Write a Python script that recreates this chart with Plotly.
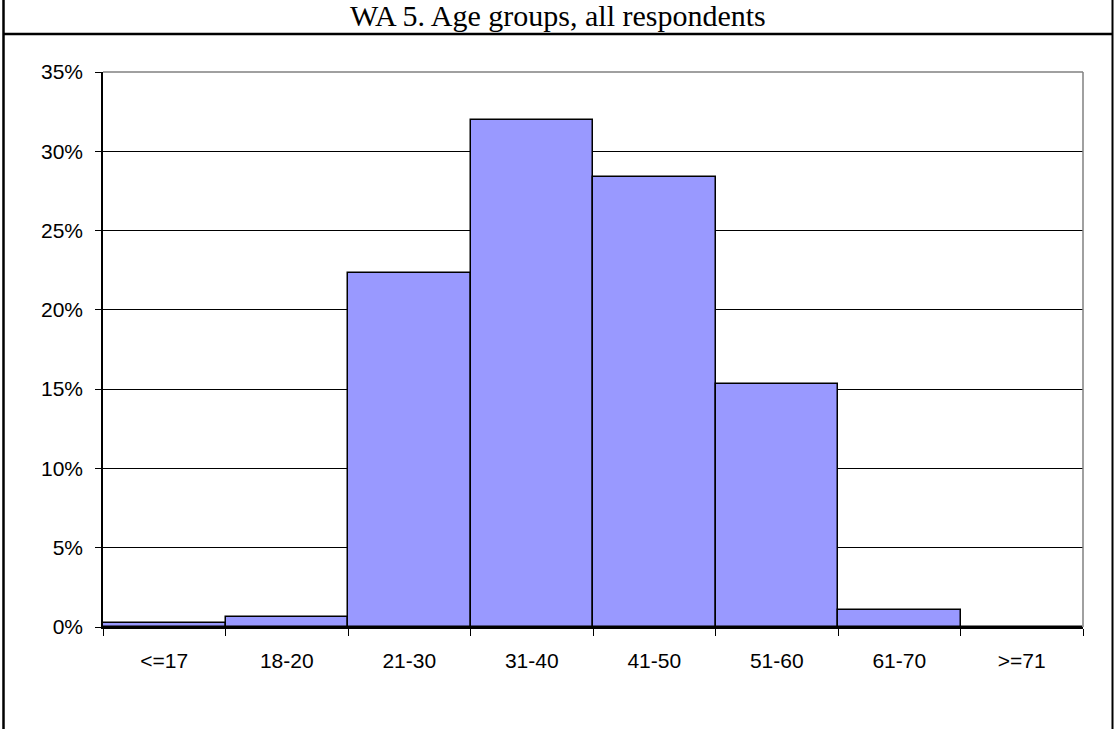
import plotly.graph_objects as go

categories = ["<=17", "18-20", "21-30", "31-40", "41-50", "51-60", "61-70", ">=71"]
values = [0.25, 0.6, 22.3, 32.0, 28.4, 15.3, 1.07, 0.0]
y_ticks = [0, 5, 10, 15, 20, 25, 30, 35]
y_labels = ["0%", "5%", "10%", "15%", "20%", "25%", "30%", "35%"]
title_text = "WA 5. Age groups, all respondents"

W, H = 1114, 729
L, R, T, B = 103, 31, 72, 102
pw, ph = W - L - R, H - T - B


def px(x):
    return (x - L) / pw


def py(y):
    return (H - B - y) / ph


fig = go.Figure(
    go.Bar(
        x=categories,
        y=values,
        marker=dict(color="#9999FF", line=dict(color="black", width=1.5)),
        hoverinfo="x+y",
    )
)

shapes = [
    # plot area grey top and right border
    dict(type="line", xref="paper", yref="paper", x0=0, x1=1, y0=1, y1=1,
         line=dict(color="#808080", width=1.5), layer="above"),
    dict(type="line", xref="paper", yref="paper", x0=1, x1=1, y0=0, y1=1,
         line=dict(color="#808080", width=1.5), layer="above"),
    # outer frame
    dict(type="line", xref="paper", yref="paper", x0=px(3.5), x1=px(3.5), y0=py(0), y1=py(729),
         line=dict(color="black", width=2.5), layer="above"),
    dict(type="line", xref="paper", yref="paper", x0=px(1112.5), x1=px(1112.5), y0=py(0), y1=py(729),
         line=dict(color="black", width=2), layer="above"),
    dict(type="line", xref="paper", yref="paper", x0=px(3), x1=px(1113), y0=py(34), y1=py(34),
         line=dict(color="black", width=2.5), layer="above"),
]

fig.update_layout(
    width=W,
    height=H,
    margin=dict(l=L, r=R, t=T, b=B, autoexpand=False),
    paper_bgcolor="white",
    plot_bgcolor="white",
    showlegend=False,
    bargap=0,
    shapes=shapes,
    font=dict(family="Liberation Sans, Arial, sans-serif", size=21, color="black"),
    annotations=[
        dict(text=title_text, xref="paper", yref="paper", x=px(558), y=py(16),
             xanchor="center", yanchor="middle", showarrow=False,
             font=dict(family="Liberation Serif, Times New Roman, serif", size=30, color="black"))
    ],
)

fig.update_xaxes(
    type="category",
    tickson="boundaries",
    ticks="outside",
    ticklen=7,
    tickcolor="black",
    tickwidth=1,
    showline=True,
    linecolor="black",
    linewidth=1.5,
    showgrid=False,
    ticklabelstandoff=14,
    tickfont=dict(size=21),
)

fig.update_yaxes(
    range=[0, 35],
    tickvals=y_ticks,
    ticktext=y_labels,
    ticks="outside",
    ticklen=6,
    tickcolor="black",
    tickwidth=1,
    showline=True,
    linecolor="black",
    linewidth=1.5,
    showgrid=True,
    gridcolor="black",
    gridwidth=1,
    zeroline=False,
    ticklabelstandoff=8,
    tickfont=dict(size=21),
)

fig.write_html(
    "out.html",
    config={"displayModeBar": False},
    post_script="document.body.style.margin='0';",
)
